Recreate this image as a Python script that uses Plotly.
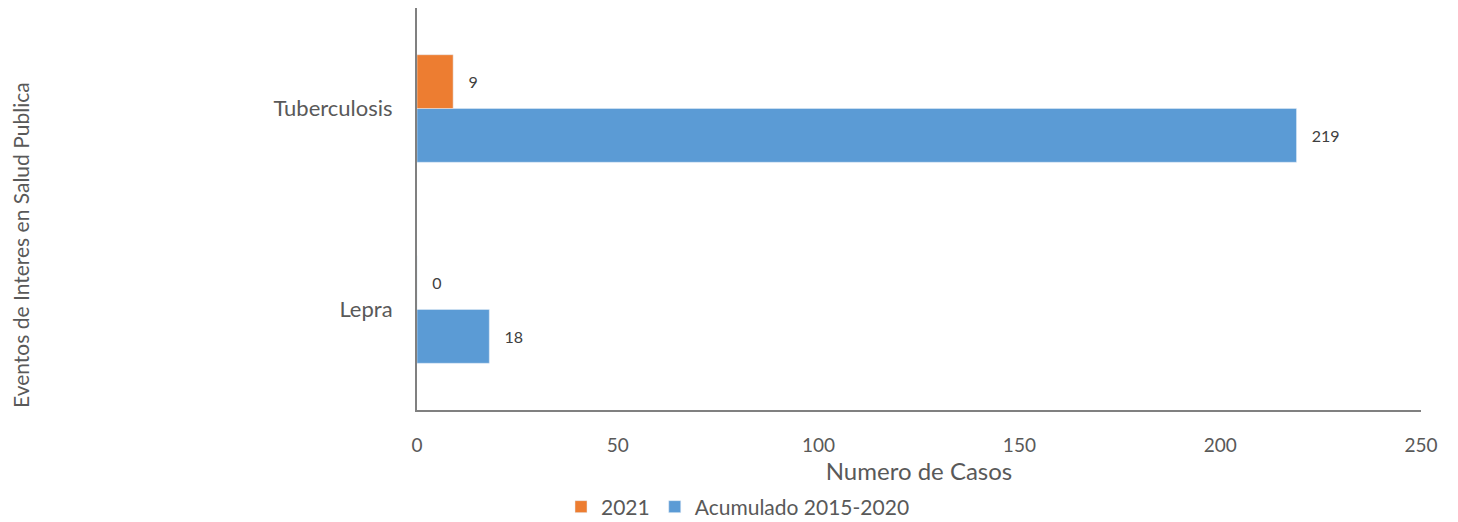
import plotly.graph_objects as go

categories = ["Lepra", "Tuberculosis"]
acumulado = [18, 219]
y2021 = [0, 9]
x_ticks = [0, 50, 100, 150, 200, 250]

FONT = "Lato"
TXT = "#595959"

fig = go.Figure()
fig.add_trace(go.Bar(
    y=categories, x=acumulado, orientation="h", name="Acumulado 2015-2020",
    marker_color="#5B9BD5", text=acumulado, texttemplate="   %{x}",
    textposition="outside", textfont=dict(family=FONT, size=16, color="#404040"),
    legendrank=2, cliponaxis=False,
))
fig.add_trace(go.Bar(
    y=categories, x=y2021, orientation="h", name="2021",
    marker_color="#ED7D31", text=y2021, texttemplate="   %{x}",
    textposition="outside", textfont=dict(family=FONT, size=16, color="#404040"),
    legendrank=1, cliponaxis=False,
))

# page body has an 8px margin, so the figure is drawn at (8, 8)
fig.update_layout(
    width=1450, height=514,
    margin=dict(l=409, r=37, t=0, b=112, autoexpand=False),
    barmode="group", bargap=0.465, bargroupgap=0,
    plot_bgcolor="white", paper_bgcolor="white",
    font=dict(family=FONT, color=TXT, size=21),
    xaxis=dict(
        range=[0, 250], tickvals=x_ticks, showgrid=False, zeroline=False,
        showline=True, linecolor="#808080", linewidth=2, ticks="",
        tickfont=dict(size=19, color=TXT), ticklabelstandoff=17, automargin=False,
        title=dict(text="Numero de Casos", font=dict(size=24, color=TXT), standoff=6),
    ),
    yaxis=dict(
        showgrid=False, zeroline=False, showline=True, linecolor="#808080",
        linewidth=2, ticks="", tickfont=dict(size=22, color=TXT),
        ticklabelstandoff=18, automargin=False,
    ),
    legend=dict(
        orientation="h", x=(738 - 417) / 1004, xanchor="center",
        y=-97 / 402, yanchor="middle", font=dict(size=21, color=TXT),
        itemwidth=30, traceorder="normal",
    ),
    showlegend=True,
    annotations=[dict(
        text="Eventos de Interes en Salud Publica", textangle=-90,
        xref="paper", yref="paper", x=(20 - 417) / 1004, y=(410 - 245) / 402,
        xanchor="center", yanchor="middle", showarrow=False,
        font=dict(size=21, color=TXT, family=FONT),
    )],
)

fig.write_html("out.html")
